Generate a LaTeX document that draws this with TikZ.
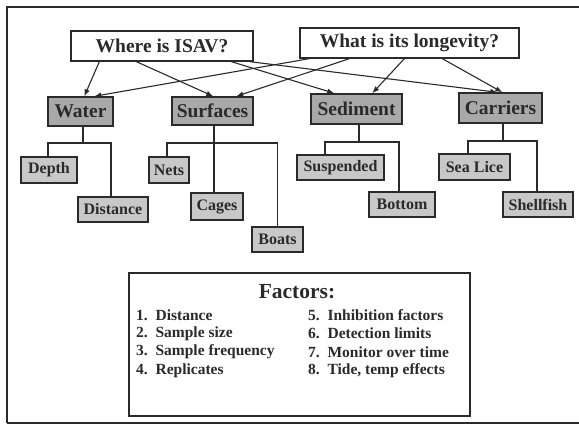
\documentclass[tikz,border=0pt]{standalone}
\usepackage{fontspec}
\setmainfont{Liberation Serif}
\usetikzlibrary{arrows.meta}
\definecolor{ink}{HTML}{2A2A2A}
\definecolor{catfill}{HTML}{A9A9A9}
\definecolor{leaffill}{HTML}{C8C8C8}
\begin{document}
\begin{tikzpicture}[x=1pt,y=-1pt,
  every node/.style={inner sep=0pt, text=ink, font=\bfseries},
  question/.style={draw=ink, line width=1.3pt, fill=white, font=\bfseries\fontsize{19.5}{21}\selectfont},
  catbox/.style={draw=ink, line width=1.4pt, fill=catfill, font=\bfseries\fontsize{19.5}{21}\selectfont},
  leafbox/.style={draw=ink, line width=1.3pt, fill=leaffill, font=\bfseries\fontsize{16}{18}\selectfont},
  link/.style={draw=ink, line width=1.1pt, -{Latex[length=7pt,width=5.5pt]}},
  branch/.style={draw=ink, line width=1.1pt},
  item/.style={anchor=west, font=\bfseries\fontsize{15.5}{17}\selectfont}]
\useasboundingbox (0,0) rectangle (579,425);
% outer frame
\draw[ink, line width=1.5pt] (7,423) -- (7,7) -- (585,7) (7,423) -- (585,423);

% questions
\node[question, minimum width=182pt, minimum height=30pt] (where) at (162,46) {Where is ISAV?};
\node[question, minimum width=219pt, minimum height=30pt] (what) at (409.5,43) {What is its longevity?};

% categories
\node[catbox, minimum width=65pt, minimum height=29pt] (water) at (80.5,111.5) {Water};
\node[catbox, minimum width=81pt, minimum height=28pt] (surf) at (212.5,111) {Surfaces};
\node[catbox, minimum width=91pt, minimum height=30pt] (sed) at (356.5,109) {Sediment};
\node[catbox, minimum width=83pt, minimum height=30pt] (carr) at (500.5,108) {Carriers};

% leaves
\node[leafbox, minimum width=56pt, minimum height=26pt] (depth) at (49,170) {Depth};
\node[leafbox, minimum width=70pt, minimum height=25pt] (dist) at (113,209.5) {Distance};
\node[leafbox, minimum width=40pt, minimum height=26pt] (nets) at (169,170) {Nets};
\node[leafbox, minimum width=52pt, minimum height=27pt] (cages) at (217,206.5) {Cages};
\node[leafbox, minimum width=51pt, minimum height=25pt] (boats) at (277.5,239.5) {Boats};
\node[leafbox, minimum width=87pt, minimum height=25pt] (susp) at (340.5,167.5) {Suspended};
\node[leafbox, minimum width=66pt, minimum height=25pt] (bottom) at (402,204.5) {Bottom};
\node[leafbox, minimum width=71pt, minimum height=26pt] (lice) at (474.5,167) {Sea Lice};
\node[leafbox, minimum width=70pt, minimum height=25pt] (shell) at (538,204.5) {Shellfish};

% question arrows
\draw[link] ([xshift=29pt]where.south west) -- ([xshift=37pt]water.north west);
\draw[link] ([xshift=66pt]where.south west) -- ([xshift=42pt]surf.north west);
\draw[link] ([xshift=161pt]where.south west) -- ([xshift=24pt]sed.north west);
\draw[link] ([xshift=-4pt]where.south east) -- ([xshift=39pt]carr.north west);
\draw[link] ([xshift=10pt]what.south west) -- ([xshift=47pt]water.north west);
\draw[link] ([xshift=50pt]what.south west) -- ([xshift=65pt]surf.north west);
\draw[link] ([xshift=105pt]what.south west) -- ([xshift=62pt]sed.north west);
\draw[link] ([xshift=143pt]what.south west) -- ([xshift=44pt]carr.north west);

% branch bars
\coordinate (wbar) at (83,143);
\coordinate (sbar) at (214,143);
\coordinate (dbar) at (359,142);
\coordinate (cbar) at (503,141);
\draw[branch] (wbar) -- (wbar |- water.south);
\draw[branch] ([xshift=-1pt]depth.north) |- (wbar) -| ([xshift=-2pt]dist.north);
\draw[branch] (sbar |- surf.south) -- (sbar |- cages.north);
\draw[branch] ([xshift=-2pt]nets.north) |- (sbar) -| (boats.north);
\draw[branch] (dbar) -- (dbar |- sed.south);
\draw[branch] ([xshift=-15.5pt]susp.north) |- (dbar) -| ([xshift=-3pt]bottom.north);
\draw[branch] (cbar) -- (cbar |- carr.south);
\draw[branch] ([xshift=-6.5pt]lice.north) |- (cbar) -| ([xshift=-1pt]shell.north);

% factors panel
\node[draw=ink, line width=1.3pt, minimum width=341pt, minimum height=143pt] (factors) at (299.5,344.5) {};
\node[font=\bfseries\fontsize{21.5}{23}\selectfont] (ftitle) at (297,292) {Factors:};
\node[item] (f1) at (136,315) {1.\ \ Distance};
\node[item] (f2) at (136,333.5) {2.\ \ Sample size};
\node[item] (f3) at (136,352) {3.\ \ Sample frequency};
\node[item] (f4) at (136,370.5) {4.\ \ Replicates};
\node[item] (f5) at (308,315) {5.\ \ Inhibition factors};
\node[item] (f6) at (308,333.5) {6.\ \ Detection limits};
\node[item] (f7) at (308,352) {7.\ \ Monitor over time};
\node[item] (f8) at (308,370.5) {8.\ \ Tide, temp effects};
\end{tikzpicture}
\end{document}
